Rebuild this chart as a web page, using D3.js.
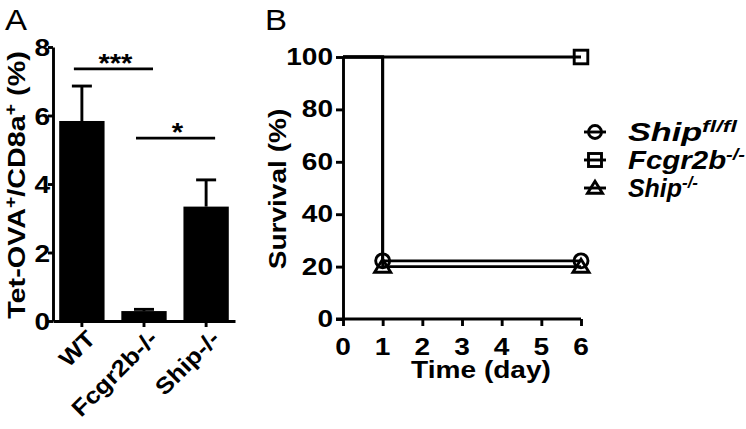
<!DOCTYPE html>
<html><head><meta charset="utf-8">
<script src="https://cdn.jsdelivr.net/npm/d3@7"></script>
<style>body{margin:0;background:#fff}svg{display:block;font-family:"Liberation Sans",Arial,sans-serif}</style>
</head><body>
<svg id="c" width="746" height="429"></svg>
<script>
// Panel A data
const groupsA = ["WT", "Fcgr2b-/-", "Ship-/-"];
const meansA = [5.84, 0.29, 3.34];
const errA = [1.02, 0.05, 0.78];
const ticksA = [0, 2, 4, 6, 8];
const sigA = [{from: 0, to: 1, y: 7.36, label: "***"}, {from: 1, to: 2, y: 5.34, label: "*"}];

// Panel B data (Kaplan-Meier step curves)
const timesB = [0, 1, 6];
const survShipFl = [100, 22.2, 22.2];
const survFcgr = [100, 100, 100];
const survShipKo = [100, 20, 20];
const markerDays = [[1, 6], [6], [1, 6]];
const legendNames = ["Ship", "Fcgr2b", "Ship"];
const legendSups = ["fl/fl", "-/-", "-/-"];
const ticksBx = [0, 1, 2, 3, 4, 5, 6];
const ticksBy = [0, 20, 40, 60, 80, 100];

const svg = d3.select("#c");
const LW = 2.9;
const SX = 1.17; // horizontal stretch of the bold typeface

function label(g, txt, x, y, o = {}) {
  const t = g.append("text")
    .attr("transform", `translate(${x},${y}) rotate(${o.rot || 0}) scale(${o.sx || SX},1)`)
    .attr("text-anchor", o.anchor || "middle")
    .attr("font-size", o.size || 24)
    .attr("font-weight", o.weight || "bold")
    .attr("font-style", o.style || "normal");
  if (txt !== null) t.text(txt);
  return t;
}

// ---------- Panel A ----------
const gA = svg.append("g");
const yA = d3.scaleLinear().domain([0, 8]).range([321, 47]);
const xA = d3.scaleBand().domain(groupsA).range([53, 235]).paddingInner(0.27).paddingOuter(0.1);
const cA = d => xA(d) + xA.bandwidth() / 2;

gA.selectAll("rect.bar").data(groupsA).join("rect").attr("class", "bar")
  .attr("x", d => xA(d)).attr("width", xA.bandwidth())
  .attr("y", (d, i) => yA(meansA[i])).attr("height", (d, i) => yA(0) - yA(meansA[i]))
  .attr("fill", "#000");
gA.selectAll("line.err").data(groupsA).join("line").attr("class", "err")
  .attr("x1", cA).attr("x2", cA)
  .attr("y1", (d, i) => yA(meansA[i])).attr("y2", (d, i) => yA(meansA[i] + errA[i]))
  .attr("stroke", "#000").attr("stroke-width", LW);
gA.selectAll("line.cap").data(groupsA).join("line").attr("class", "cap")
  .attr("x1", d => cA(d) - 10).attr("x2", d => cA(d) + 10)
  .attr("y1", (d, i) => yA(meansA[i] + errA[i])).attr("y2", (d, i) => yA(meansA[i] + errA[i]))
  .attr("stroke", "#000").attr("stroke-width", LW);

const axYA = gA.append("g").attr("transform", "translate(53,0)")
  .call(d3.axisLeft(yA).tickValues(ticksA).tickSize(5).tickSizeOuter(0).tickFormat(""));
const axXA = gA.append("g").attr("transform", "translate(0,321)")
  .call(d3.axisBottom(xA).tickSize(6).tickSizeOuter(0).tickFormat(""));
[axYA, axXA].forEach(a => {
  a.select(".domain").attr("stroke-width", LW);
  a.selectAll(".tick line").attr("stroke-width", LW);
});
ticksA.forEach(v => label(gA, String(v), 50, yA(v) + 9, {anchor: "end"}));
groupsA.forEach(d => label(gA, d, cA(d) + 15, 340, {anchor: "end", rot: -45, size: 23, sx: 1.12}));

sigA.forEach(s => {
  const x1 = cA(groupsA[s.from]) - 8;
  const x2 = cA(groupsA[s.to]) + 9;
  gA.append("line").attr("x1", x1).attr("x2", x2).attr("y1", yA(s.y)).attr("y2", yA(s.y))
    .attr("stroke", "#000").attr("stroke-width", LW);
  label(gA, s.label, (x1 + x2) / 2 + 2, yA(s.y) + 3, {size: 25});
});

const ylabA = label(gA, null, 25, 185, {rot: -90, sx: 1.2});
ylabA.append("tspan").text("Tet-OVA");
ylabA.append("tspan").attr("dy", -9).attr("font-size", 16).text("+");
ylabA.append("tspan").attr("dy", 9).text("/CD8a");
ylabA.append("tspan").attr("dy", -9).attr("font-size", 16).text("+");
ylabA.append("tspan").attr("dy", 9).text(" (%)");

label(svg, "A", 5, 30, {anchor: "start", size: 30, weight: "normal", sx: 1.1});

// ---------- Panel B ----------
const gB = svg.append("g");
const xB = d3.scaleLinear().domain([0, 6]).range([343, 581]);
const yB = d3.scaleLinear().domain([0, 100]).range([319, 57]);

const axYB = gB.append("g").attr("transform", "translate(343,0)")
  .call(d3.axisLeft(yB).tickValues(ticksBy).tickSize(7).tickSizeOuter(0).tickFormat(""));
const axXB = gB.append("g").attr("transform", "translate(0,319)")
  .call(d3.axisBottom(xB).tickValues(ticksBx).tickSize(7).tickSizeOuter(0).tickFormat(""));
[axYB, axXB].forEach(a => {
  a.select(".domain").attr("stroke-width", LW);
  a.selectAll(".tick line").attr("stroke-width", LW);
});
axXB.select(".domain").attr("d", "M336,0H581");
ticksBy.forEach(v => label(gB, String(v), 333, yB(v) + 8, {anchor: "end"}));
ticksBx.forEach(v => label(gB, String(v), xB(v), 355));

const survs = [survShipFl, survFcgr, survShipKo];
const line = d3.line().curve(d3.curveStepAfter).x(d => xB(d[0])).y(d => yB(d[1]));
survs.forEach(s => {
  gB.append("path").attr("d", line(timesB.map((t, i) => [t, s[i]])))
    .attr("fill", "none").attr("stroke", "#000").attr("stroke-width", LW);
});

function marker(g, type, cx, cy, r) {
  const st = e => e.attr("fill", "none").attr("stroke", "#000").attr("stroke-width", LW);
  if (type === 0) st(g.append("circle").attr("cx", cx).attr("cy", cy).attr("r", r));
  else if (type === 1) st(g.append("rect").attr("x", cx - r).attr("y", cy - r).attr("width", 2 * r).attr("height", 2 * r));
  else st(g.append("path").attr("d", `M${cx},${cy - r * 1.05}L${cx + r * 1.15},${cy + r * 0.8}L${cx - r * 1.15},${cy + r * 0.8}Z`));
}
markerDays.forEach((days, si) => {
  days.forEach(d => {
    const i = timesB.indexOf(d);
    marker(gB, si, xB(d), yB(survs[si][i]), si === 1 ? 6.8 : 7);
  });
});

label(gB, "Survival (%)", 286, 189, {rot: -90});
label(gB, "Time (day)", 481, 378);
label(svg, "B", 265, 30, {anchor: "start", size: 30, weight: "normal", sx: 1.1});

// Legend
const legY = [132, 160, 188];
const legW = [109, 117, 70];
legendNames.forEach((nm, i) => {
  const y = legY[i];
  gB.append("line").attr("x1", 584).attr("x2", 606).attr("y1", y).attr("y2", y)
    .attr("stroke", "#000").attr("stroke-width", LW);
  marker(gB, i, 595, y, 6.5);
  const t = gB.append("text").attr("x", 628).attr("y", y + 9).attr("font-size", 25)
    .attr("font-weight", "bold").attr("font-style", "italic")
    .attr("textLength", legW[i]).attr("lengthAdjust", "spacingAndGlyphs");
  t.append("tspan").text(nm);
  t.append("tspan").attr("dy", -9).attr("font-size", 17).text(legendSups[i]);
});
</script>
</body></html>
